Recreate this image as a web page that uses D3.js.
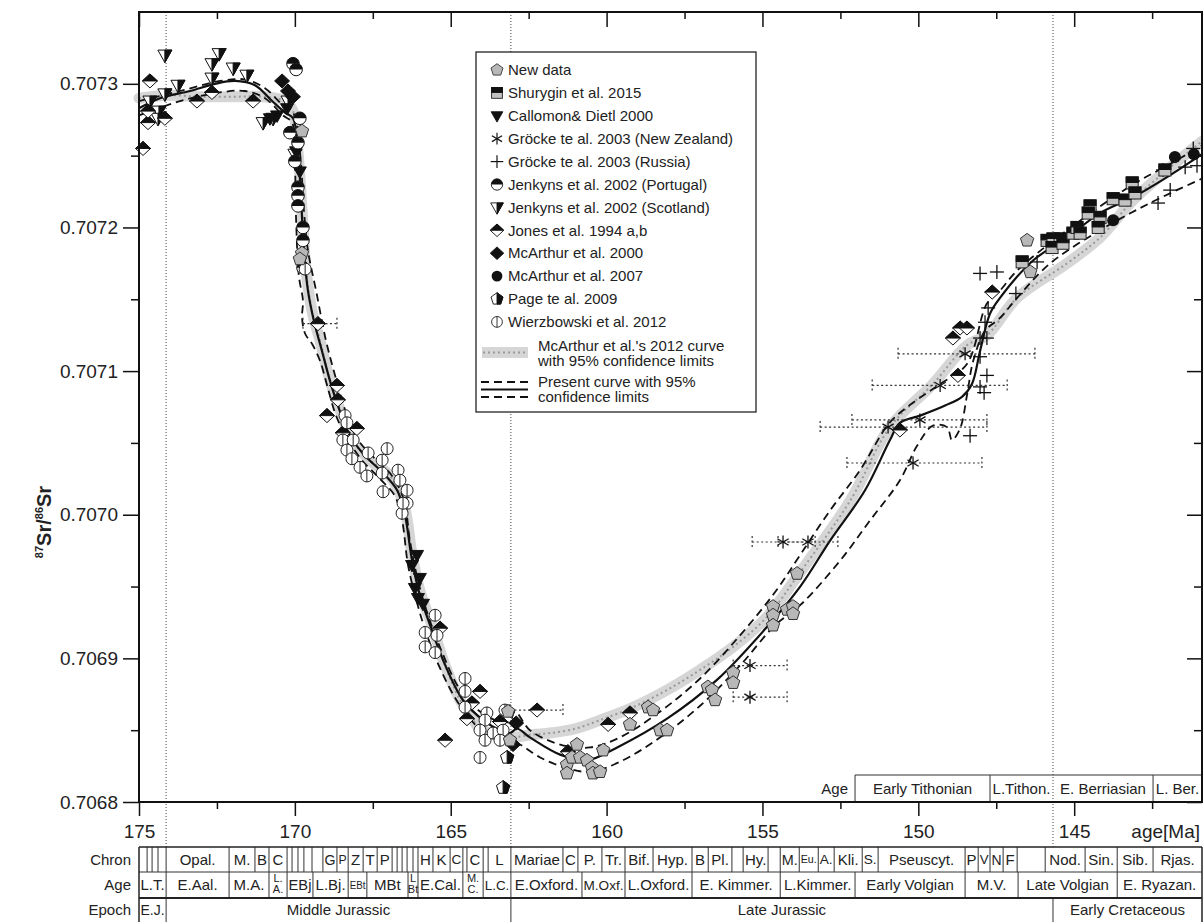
<!DOCTYPE html>
<html>
<head>
<meta charset="utf-8">
<script src="https://cdn.jsdelivr.net/npm/d3@7/dist/d3.min.js"></script>
<style>
body{margin:0;background:#fff;}
svg text{font-family:"Liberation Sans",Arial,Helvetica,sans-serif;fill:#222;}
</style>
</head>
<body>
<svg id="chart" width="1203" height="922"></svg>
<script>
// ---- data: [age Ma, 87Sr/86Sr] (error bars: [age, value, oldest, youngest]) ----
const newData=[[169.77,0.707267],[169.77,0.707182],[169.84,0.707178],[163.16,0.706863],[163.1,0.706843],[161.27,0.706826],[160.95,0.70684],[161.11,0.706831],[160.85,0.706831],[160.63,0.706829],[160.47,0.706824],[161.27,0.70682],[160.44,0.70682],[160.21,0.706821],[160.11,0.706836],[159.25,0.706854],[158.67,0.706866],[158.51,0.706864],[158.28,0.70685],[158.06,0.70685],[156.75,0.70688],[156.62,0.706878],[156.52,0.706871],[155.94,0.70689],[155.94,0.706883],[154.66,0.706936],[154.66,0.70693],[154.66,0.706923],[154.21,0.706934],[154.02,0.706936],[154.02,0.706931],[153.89,0.706959],[146.51,0.707191],[146.41,0.707169]];
const shurygin=[[146.67,0.707176],[145.87,0.707191],[145.68,0.707192],[145.45,0.707192],[145.71,0.707186],[145.36,0.707189],[145.04,0.707196],[144.91,0.7072],[144.81,0.707196],[144.49,0.707215],[144.55,0.70721],[144.17,0.707207],[144.23,0.7072],[143.75,0.70722],[143.37,0.707219],[143.14,0.707231],[143.05,0.707224],[142.09,0.70724]];
const callomon=[[170.57,0.707278],[170.8,0.707276],[170.25,0.707283],[169.96,0.707253],[169.84,0.707239],[165.99,0.706956],[166.15,0.706949],[166.05,0.706942],[165.89,0.706938],[166.24,0.706965],[166.08,0.706972]];
const grockeNZ=[[148.5,0.707112,150.65,146.26],[149.3,0.70709,151.48,147.15],[149.95,0.707066,152.13,147.8],[150.97,0.707061,153.15,147.8],[150.17,0.707036,152.29,147.96],[154.34,0.706981,155.33,153.31],[153.54,0.706981,154.5,152.58],[155.4,0.706895,155.94,154.21],[155.4,0.706873,155.94,154.21]];
const grockeRU=[[148.02,0.707168],[147.48,0.707169],[147.76,0.707144],[147.86,0.707134],[148.02,0.707123],[147.8,0.707123],[148.02,0.70711],[147.8,0.707097],[148.02,0.707089],[147.89,0.707085],[146.87,0.707154],[146.19,0.707176],[142.31,0.707217],[141.92,0.707226],[141.44,0.707242],[141.06,0.707243],[141.18,0.707255],[148.34,0.707055],[142.15,0.70724]];
const jenkynsPT=[[170.06,0.707314],[169.96,0.70731],[170.16,0.707266],[169.9,0.707259],[169.84,0.707276],[169.9,0.707228],[169.9,0.707222],[169.9,0.707215],[169.74,0.7072],[169.74,0.707191],[169.74,0.707172],[170.0,0.707246]];
const jenkynsSC=[[174.17,0.70732],[172.43,0.707321],[172.66,0.707314],[171.98,0.707311],[171.54,0.707306],[172.66,0.707304],[173.75,0.707299],[174.17,0.707293],[174.36,0.707281],[171.02,0.707273],[170.7,0.707276],[174.65,0.707288],[174.39,0.707276],[170.0,0.707251],[170.22,0.707288]];
const jones=[[174.65,0.707302],[174.87,0.707255],[174.71,0.707273],[174.17,0.707276],[173.14,0.707288],[172.66,0.707294],[171.34,0.707288],[174.71,0.707281],[169.26,0.707133,169.74,168.65],[168.65,0.70709],[168.62,0.70708],[168.97,0.707069],[168.46,0.707057],[168.01,0.70706],[165.34,0.706921],[164.06,0.706877],[164.32,0.706869],[164.48,0.706858],[163.42,0.706856],[165.18,0.706843],[162.23,0.706864,163.1,161.4],[161.24,0.706835],[159.95,0.706854],[159.25,0.706862],[150.59,0.707059],[148.89,0.707123],[148.66,0.70713],[148.44,0.70713],[147.63,0.707155],[148.73,0.707097]];
const mcarthur2000=[[170.41,0.707302],[170.22,0.707295],[170.06,0.707291],[162.9,0.706855],[163.0,0.70684]];
const mcarthur2007=[[141.77,0.707249],[141.16,0.707251],[143.75,0.707205]];
const page=[[163.19,0.706831],[163.32,0.70681]];
const wierzbowski=[[169.67,0.707171],[168.39,0.707069],[168.33,0.707064],[168.46,0.707052],[168.13,0.707052],[168.33,0.707045],[168.17,0.707039],[167.91,0.707033],[167.65,0.707043],[167.69,0.707027],[167.04,0.707046],[167.2,0.707038],[167.2,0.707029],[166.69,0.707031],[166.63,0.707024],[166.4,0.707017],[166.4,0.707008],[167.17,0.707016],[166.56,0.707001],[165.5,0.70693],[165.82,0.706918],[165.82,0.706908],[165.44,0.706916],[165.5,0.706904],[164.54,0.706886],[164.54,0.706877],[164.54,0.706866],[163.84,0.706862],[163.9,0.706857],[164.06,0.70685],[163.9,0.706843],[163.64,0.706848],[163.32,0.70685],[163.42,0.706843],[163.26,0.706864],[164.06,0.706831],[166.53,0.707008]];

const mcarthurCurve=[[175.0,0.70729],[174.0,0.707292],[173.04,0.707291],[172.0,0.707291],[171.0,0.707291],[170.32,0.707288],[170.06,0.707281],[169.9,0.707253],[169.77,0.707212],[169.64,0.70717],[169.45,0.707142],[169.19,0.707121],[168.87,0.707093],[168.55,0.707073],[168.17,0.707052],[167.59,0.707038],[166.95,0.707027],[166.5,0.707007],[166.24,0.706972],[165.99,0.706947],[165.6,0.706923],[165.18,0.706895],[164.7,0.706871],[164.38,0.706861],[164.06,0.706851],[163.58,0.706847],[163.1,0.706845],[162.36,0.706847],[161.81,0.706848],[161.01,0.706851],[160.21,0.706857],[159.15,0.706866],[158.06,0.706878],[157.0,0.706892],[155.94,0.706908],[154.85,0.706929],[153.79,0.70696],[152.18,0.70701],[150.91,0.707061],[149.53,0.707091],[148.44,0.707118],[147.8,0.707125],[146.83,0.707151],[145.23,0.707175],[144.17,0.707193],[143.11,0.707219],[142.02,0.70724],[140.9,0.70726]];
const presentCurve=[[175.0,0.707283],[174.33,0.70729],[173.36,0.707295],[172.56,0.7073],[171.92,0.707302],[171.28,0.707299],[170.73,0.707288],[170.32,0.70728],[170.06,0.707276],[169.9,0.707253],[169.8,0.707219],[169.71,0.707184],[169.58,0.707156],[169.39,0.707135],[169.13,0.707114],[168.87,0.707093],[168.62,0.707076],[168.23,0.707055],[167.75,0.707041],[167.17,0.707029],[166.72,0.707017],[166.47,0.707],[166.24,0.706968],[165.99,0.706944],[165.66,0.706923],[165.25,0.706899],[164.61,0.706871],[163.96,0.706857],[163.42,0.70685],[163.1,0.706848],[162.87,0.706851],[162.46,0.706845],[161.49,0.706833],[160.63,0.706829],[159.66,0.706838],[158.06,0.706858],[156.46,0.706885],[154.85,0.706922],[153.79,0.70695],[152.83,0.706982],[151.71,0.707017],[150.91,0.707052],[150.59,0.707064],[149.94,0.707069],[149.14,0.707076],[148.6,0.707082],[148.28,0.707091],[148.02,0.707114],[147.7,0.70714],[147.38,0.707151],[146.32,0.707177],[145.23,0.707193],[144.17,0.70721],[143.11,0.707221],[142.02,0.707235],[140.9,0.707251]];
const presentUpper=[[175.0,0.707288],[173.68,0.707295],[172.4,0.707302],[171.6,0.707303],[170.96,0.707297],[170.38,0.707285],[170.06,0.70728],[169.84,0.707253],[169.71,0.707212],[169.58,0.707184],[169.32,0.707156],[169.0,0.707121],[168.71,0.707097],[168.39,0.707073],[167.97,0.707052],[167.43,0.707039],[166.88,0.707027],[166.5,0.70701],[166.31,0.706982],[166.05,0.706954],[165.73,0.70693],[165.31,0.706906],[164.7,0.706878],[164.06,0.706863],[163.42,0.706856],[163.1,0.706856],[162.94,0.706863],[162.46,0.70685],[161.49,0.70684],[160.53,0.706838],[159.57,0.706845],[158.28,0.706863],[157.0,0.706886],[155.72,0.706916],[154.6,0.706946],[153.79,0.706972],[152.83,0.707003],[151.87,0.707031],[151.0,0.707062],[150.59,0.707071],[150.04,0.70708],[149.3,0.707091],[148.44,0.707105],[147.8,0.707147],[147.38,0.707156],[146.83,0.70717],[145.23,0.707198],[143.11,0.70723],[142.02,0.707243],[140.9,0.707257]];
const presentLower=[[175.0,0.707278],[173.68,0.707288],[172.4,0.707294],[171.6,0.707295],[170.96,0.70729],[170.38,0.707278],[170.09,0.707273],[170.0,0.707246],[169.96,0.707205],[169.87,0.707166],[169.74,0.707149],[169.77,0.707137],[169.67,0.707126],[169.45,0.707119],[169.19,0.707107],[168.94,0.707088],[168.68,0.707069],[168.29,0.707052],[167.85,0.707038],[167.27,0.707025],[166.79,0.707013],[166.56,0.706996],[166.37,0.706965],[166.11,0.706941],[165.79,0.706918],[165.34,0.706893],[164.7,0.706867],[164.06,0.706851],[163.42,0.706845],[163.1,0.706842],[162.78,0.70684],[162.13,0.706831],[161.33,0.706824],[160.53,0.706821],[159.57,0.706828],[158.28,0.706845],[157.0,0.706867],[155.72,0.706895],[154.6,0.706923],[153.79,0.706937],[152.51,0.706968],[151.55,0.706996],[150.59,0.707024],[150.04,0.707048],[149.53,0.707062],[149.08,0.707061],[148.92,0.707052],[148.66,0.70706],[148.44,0.707083],[148.24,0.707107],[147.86,0.707128],[147.38,0.707137],[146.83,0.707151],[145.77,0.707175],[144.17,0.707198],[142.57,0.707217],[140.9,0.707234]];

// ---- stratigraphy ----
const chronBounds=[175.0,174.74,174.58,174.39,174.13,172.11,171.28,170.83,170.25,170.09,169.9,169.71,169.45,169.1,168.65,168.29,167.81,167.36,166.88,166.72,166.56,166.4,166.21,166.05,165.57,165.02,164.61,164.48,163.96,163.8,163.07,161.4,160.92,160.15,159.41,158.51,157.26,156.74,155.98,155.62,154.82,154.43,153.82,153.21,152.7,151.8,151.29,148.5,148.08,147.7,147.28,146.83,145.93,144.65,143.62,142.47,140.9];
const chronLabels=['','','','','Opal.','M.','B','C','','','','','','G','P','Z','T','P','','','','','','H','K','C','','C','','L','Mariae','C','P.','Tr.','Bif.','Hyp.','B','Pl.','','Hy.','','M.','Eu.','A.','Kli.','S.','Pseuscyt.','P','V','N','F','','Nod.','Sin.','Sib.','Rjas.'];
const ageBounds=[175.0,174.13,172.11,170.83,170.25,169.42,168.29,167.69,166.37,166.05,164.61,163.96,163.07,160.79,159.41,157.26,154.43,152.03,148.5,146.8,143.62,140.9];
const ageLabels=['L.T.','E.Aal.','M.A.','L.|A.','EBj','L.Bj.','EBt','MBt','L|Bt','E.Cal.','M.|C.','L.C.','E.Oxford.','M.Oxf.','L.Oxford.','E. Kimmer.','L.Kimmer.','Early Volgian','M.V.','Late Volgian','E. Ryazan.'];
const epochBounds=[175.0,174.13,163.07,145.68,140.9];
const epochLabels=['E.J.','Middle Jurassic','Late Jurassic','Early Cretaceous'];
const topAgeBounds=[152.03,147.7,145.68,142.47,140.9];
const topAgeLabels=['Early Tithonian','L.Tithon.','E. Berriasian','L. Ber.'];
const boundaryLines=[174.13,163.07,145.68];

const xMajor=[175,170,165,160,155,150,145];
const xMinor=[172.5,167.5,162.5,157.5,152.5,147.5,142.5];
const yMajor=[0.7068,0.7069,0.707,0.7071,0.7072,0.7073];
const yMinor=[0.70685,0.70695,0.70705,0.70715,0.70725];

// ---- drawing ----
const svg=d3.select('#chart');
const x=d3.scaleLinear().domain([175,140.9]).range([139,1202]);
const y=d3.scaleLinear().domain([0.7068,0.70735]).range([802,12]);
const FONT='"Liberation Sans",Arial,Helvetica,sans-serif';

// stage boundaries
svg.append('g').selectAll('line').data(boundaryLines).join('line')
  .attr('x1',d=>x(d)).attr('x2',d=>x(d)).attr('y1',12).attr('y2',847)
  .attr('stroke','#444').attr('stroke-width',1).attr('stroke-dasharray','1,2');

// upper right age box
const tb=svg.append('g');
tb.append('line').attr('x1',x(topAgeBounds[0])).attr('x2',1202).attr('y1',775).attr('y2',775).attr('stroke','#333');
topAgeBounds.slice(0,-1).forEach(b=>{
  if(boundaryLines.indexOf(b)<0) tb.append('line').attr('x1',x(b)).attr('x2',x(b)).attr('y1',775).attr('y2',802).attr('stroke','#333');
});
topAgeLabels.forEach((l,i)=>{
  tb.append('text').attr('x',(x(topAgeBounds[i])+x(topAgeBounds[i+1]))/2).attr('y',794)
    .attr('text-anchor','middle').attr('font-size',15).text(l);
});
tb.append('text').attr('x',x(topAgeBounds[0])-7).attr('y',794).attr('text-anchor','end').attr('font-size',15).text('Age');

// curves
const line=d3.line().x(d=>x(d[0])).y(d=>y(d[1])).curve(d3.curveCatmullRom.alpha(0.5));
svg.append('path').attr('d',line(mcarthurCurve)).attr('fill','none').attr('stroke','#d6d6d6').attr('stroke-width',11).attr('stroke-linejoin','round').attr('stroke-linecap','round');
svg.append('path').attr('d',line(mcarthurCurve)).attr('fill','none').attr('stroke','#9a9a9a').attr('stroke-width',2).attr('stroke-dasharray','2,3');
svg.append('path').attr('d',line(presentUpper)).attr('fill','none').attr('stroke','#111').attr('stroke-width',1.8).attr('stroke-dasharray','8,5');
svg.append('path').attr('d',line(presentLower)).attr('fill','none').attr('stroke','#111').attr('stroke-width',1.8).attr('stroke-dasharray','8,5');
svg.append('path').attr('d',line(presentCurve)).attr('fill','none').attr('stroke','#111').attr('stroke-width',2.2);

// symbols
function pent(r){return d3.range(5).map(i=>{const a=(-90+72*i)*Math.PI/180;return [(r*Math.cos(a)).toFixed(2),(r*Math.sin(a)).toFixed(2)];}).join(' ');}
function pentRight(r){const p=d3.range(3).map(i=>{const a=(-90+72*i)*Math.PI/180;return [(r*Math.cos(a)).toFixed(2),(r*Math.sin(a)).toFixed(2)];});p.push([0,(r*0.809).toFixed(2)]);return p.join(' ');}
const sym={
  newData:g=>g.append('polygon').attr('points',pent(7)).attr('fill','#b8b8b8').attr('stroke','#333'),
  shurygin:g=>{g.append('rect').attr('x',-6).attr('y',-6).attr('width',12).attr('height',12).attr('fill','#c2c2c2').attr('stroke','#222');
    g.append('rect').attr('x',-6).attr('y',-6).attr('width',12).attr('height',5.5).attr('fill','#111').attr('stroke','#111');},
  callomon:g=>g.append('polygon').attr('points','-6.5,-4.5 6.5,-4.5 0,7').attr('fill','#111').attr('stroke','#111'),
  grockeNZ:g=>[90,30,150].forEach(a=>{const c=6.5*Math.cos(a*Math.PI/180),s=6.5*Math.sin(a*Math.PI/180);
    g.append('line').attr('x1',-c).attr('y1',-s).attr('x2',c).attr('y2',s).attr('stroke','#111').attr('stroke-width',1.3);}),
  grockeRU:g=>{g.append('line').attr('x1',-7).attr('x2',7).attr('y1',0).attr('y2',0).attr('stroke','#111').attr('stroke-width',1.3);
    g.append('line').attr('x1',0).attr('x2',0).attr('y1',-7).attr('y2',7).attr('stroke','#111').attr('stroke-width',1.3);},
  jenkynsPT:g=>{g.append('circle').attr('r',6.3).attr('fill','#fff').attr('stroke','#111');
    g.append('path').attr('d','M-6.3,0A6.3,6.3 0 0 1 6.3,0Z').attr('fill','#111');},
  jenkynsSC:g=>{g.append('polygon').attr('points','-7,-5 7,-5 0,7.5').attr('fill','#fff').attr('stroke','#111');
    g.append('polygon').attr('points','0,-5 7,-5 0,7.5').attr('fill','#111').attr('stroke','#111');},
  jones:g=>{g.append('polygon').attr('points','0,-7 7.5,0 0,7 -7.5,0').attr('fill','#fff').attr('stroke','#111');
    g.append('polygon').attr('points','-7.5,0 0,-7 7.5,0').attr('fill','#111').attr('stroke','#111');},
  mcarthur2000:g=>g.append('polygon').attr('points','0,-7 7.5,0 0,7 -7.5,0').attr('fill','#111').attr('stroke','#111'),
  mcarthur2007:g=>g.append('circle').attr('r',6).attr('fill','#111'),
  page:g=>{g.append('polygon').attr('points',pent(7)).attr('fill','#fff').attr('stroke','#111');
    g.append('polygon').attr('points',pentRight(7)).attr('fill','#111').attr('stroke','#111');},
  wierzbowski:g=>{g.append('circle').attr('r',6).attr('fill','#fff').attr('stroke','#222');
    g.append('line').attr('x1',0).attr('x2',0).attr('y1',-6).attr('y2',6).attr('stroke','#222');}
};

const series=[
  {key:'jenkynsSC',data:jenkynsSC,label:'Jenkyns et al. 2002 (Scotland)'},
  {key:'jones',data:jones,label:'Jones et al. 1994 a,b'},
  {key:'callomon',data:callomon,label:'Callomon& Dietl 2000'},
  {key:'mcarthur2000',data:mcarthur2000,label:'McArthur et al. 2000'},
  {key:'jenkynsPT',data:jenkynsPT,label:'Jenkyns et al. 2002 (Portugal)'},
  {key:'wierzbowski',data:wierzbowski,label:'Wierzbowski et al. 2012'},
  {key:'grockeRU',data:grockeRU,label:'Gröcke te al. 2003 (Russia)'},
  {key:'grockeNZ',data:grockeNZ,label:'Gröcke te al. 2003 (New Zealand)'},
  {key:'shurygin',data:shurygin,label:'Shurygin et al. 2015'},
  {key:'mcarthur2007',data:mcarthur2007,label:'McArthur et al. 2007'},
  {key:'newData',data:newData,label:'New data'},
  {key:'page',data:page,label:'Page te al. 2009'}
];

// horizontal error bars
const eb=svg.append('g').attr('stroke','#333').attr('stroke-width',1.2).attr('stroke-dasharray','2,2.5');
series.forEach(s=>s.data.filter(d=>d.length>2).forEach(d=>{
  eb.append('line').attr('x1',x(d[2])).attr('x2',x(d[3])).attr('y1',y(d[1])).attr('y2',y(d[1]));
  [d[2],d[3]].forEach(e=>eb.append('line').attr('x1',x(e)).attr('x2',x(e)).attr('y1',y(d[1])-6).attr('y2',y(d[1])+6));
}));

series.forEach(s=>{
  const g=svg.append('g');
  s.data.forEach(d=>{
    const p=g.append('g').attr('transform','translate('+x(d[0])+','+y(d[1])+')');
    sym[s.key](p);
  });
});

// axes
function styleAxis(g){
  g.select('.domain').remove();
  g.attr('font-size',19).attr('font-family',FONT).attr('color','#111');
  g.selectAll('line').attr('stroke-width',1.5);
}
svg.append('g').attr('transform','translate(139,0)').call(d3.axisLeft(y).tickValues(yMajor).tickSize(16).tickPadding(5).tickFormat(d3.format('.4f'))).call(styleAxis);
svg.append('g').attr('transform','translate(139,0)').call(d3.axisLeft(y).tickValues(yMinor).tickSize(8).tickFormat('')).call(styleAxis);
svg.append('g').attr('transform','translate(1202,0)').call(d3.axisLeft(y).tickValues(yMajor).tickSize(15).tickFormat('')).call(styleAxis);
svg.append('g').attr('transform','translate(1202,0)').call(d3.axisLeft(y).tickValues(yMinor).tickSize(8).tickFormat('')).call(styleAxis);
svg.append('g').attr('transform','translate(0,802)').call(d3.axisBottom(x).tickValues(xMajor).tickSize(14).tickPadding(9).tickFormat(d3.format('d'))).call(styleAxis);
svg.append('g').attr('transform','translate(0,802)').call(d3.axisBottom(x).tickValues(xMinor).tickSize(7).tickFormat('')).call(styleAxis);
svg.append('g').attr('transform','translate(0,12)').call(d3.axisBottom(x).tickValues(xMajor).tickSize(15).tickFormat('')).call(styleAxis);
svg.append('g').attr('transform','translate(0,12)').call(d3.axisBottom(x).tickValues(xMinor).tickSize(7).tickFormat('')).call(styleAxis);
svg.append('rect').attr('x',139).attr('y',12).attr('width',1063).attr('height',790).attr('fill','none').attr('stroke','#111').attr('stroke-width',2);

svg.append('text').attr('x',1200).attr('y',838).attr('text-anchor','end').attr('font-size',19).text('age[Ma]');

// y title
const yt=svg.append('text').attr('transform','translate(51,522) rotate(-90)').attr('text-anchor','middle').attr('font-size',20).attr('font-weight','bold');
yt.append('tspan').attr('font-size',11).attr('dy',-8).text('87');
yt.append('tspan').attr('dy',8).text('Sr/');
yt.append('tspan').attr('font-size',11).attr('dy',-8).text('86');
yt.append('tspan').attr('dy',8).text('Sr');

// legend
const lg=svg.append('g');
lg.append('rect').attr('x',476).attr('y',52).attr('width',280).attr('height',360).attr('fill','#fff').attr('stroke','#111').attr('stroke-width',1.2);
const legendOrder=['newData','shurygin','callomon','grockeNZ','grockeRU','jenkynsPT','jenkynsSC','jones','mcarthur2000','mcarthur2007','page','wierzbowski'];
legendOrder.forEach((k,i)=>{
  const s=series.find(e=>e.key===k);
  const yy=70+i*22.9;
  const p=lg.append('g').attr('transform','translate(497,'+yy+') scale(0.9)');
  sym[k](p);
  lg.append('text').attr('x',508).attr('y',yy).attr('dy','0.35em').attr('font-size',15).text(s.label);
});
lg.append('rect').attr('x',482).attr('y',347).attr('width',46).attr('height',11).attr('fill','#d6d6d6');
lg.append('line').attr('x1',483).attr('x2',528).attr('y1',352.5).attr('y2',352.5).attr('stroke','#9a9a9a').attr('stroke-width',2).attr('stroke-dasharray','2,3');
lg.append('text').attr('x',538).attr('y',346).attr('dy','0.35em').attr('font-size',15).text("McArthur et al.'s 2012 curve");
lg.append('text').attr('x',538).attr('y',361).attr('dy','0.35em').attr('font-size',15).text('with 95% confidence limits');
lg.append('line').attr('x1',481).attr('x2',528).attr('y1',382).attr('y2',382).attr('stroke','#111').attr('stroke-width',1.8).attr('stroke-dasharray','8,5');
lg.append('line').attr('x1',481).attr('x2',528).attr('y1',389.5).attr('y2',389.5).attr('stroke','#111').attr('stroke-width',2.2);
lg.append('line').attr('x1',481).attr('x2',528).attr('y1',397).attr('y2',397).attr('stroke','#111').attr('stroke-width',1.8).attr('stroke-dasharray','8,5');
lg.append('text').attr('x',538).attr('y',382).attr('dy','0.35em').attr('font-size',15).text('Present curve with 95%');
lg.append('text').attr('x',538).attr('y',397).attr('dy','0.35em').attr('font-size',15).text('confidence limits');

// stratigraphic table
const tab=svg.append('g');
function row(bounds,labels,y0,y1){
  labels.forEach((lab,i)=>{
    const xa=x(bounds[i]),xb=x(bounds[i+1]);
    if(i>0) tab.append('line').attr('x1',xa).attr('x2',xa).attr('y1',y0).attr('y2',y1).attr('stroke','#333');
    if(!lab) return;
    const cx=(xa+xb)/2, w=xb-xa-3;
    const parts=lab.split('|');
    if(parts.length===1){
      const t=tab.append('text').attr('x',cx).attr('y',(y0+y1)/2).attr('dy','0.36em').attr('text-anchor','middle').attr('font-size',15).text(lab);
      const len=t.node().getComputedTextLength();
      if(len>w){
        const fs=Math.max(10,15*w/len);
        t.attr('font-size',fs);
        if(t.node().getComputedTextLength()>w) t.attr('textLength',w).attr('lengthAdjust','spacingAndGlyphs');
      }
    } else {
      parts.forEach((p,j)=>{
        tab.append('text').attr('x',cx).attr('y',y0+10+j*11).attr('text-anchor','middle').attr('font-size',11).text(p);
      });
    }
  });
}
row(chronBounds,chronLabels,847,872);
row(ageBounds,ageLabels,872,898);
row(epochBounds,epochLabels,898,922);
tab.append('line').attr('x1',139).attr('x2',1202).attr('y1',847).attr('y2',847).attr('stroke','#222').attr('stroke-width',1.5);
tab.append('line').attr('x1',139).attr('x2',1202).attr('y1',872).attr('y2',872).attr('stroke','#333');
tab.append('line').attr('x1',139).attr('x2',1202).attr('y1',898).attr('y2',898).attr('stroke','#222').attr('stroke-width',2);
tab.append('line').attr('x1',139).attr('x2',139).attr('y1',847).attr('y2',922).attr('stroke','#222').attr('stroke-width',1.5);
tab.append('line').attr('x1',1202).attr('x2',1202).attr('y1',847).attr('y2',922).attr('stroke','#222').attr('stroke-width',1.5);
[['Chron',859.5],['Age',885],['Epoch',910]].forEach(r=>{
  tab.append('text').attr('x',131).attr('y',r[1]).attr('dy','0.36em').attr('text-anchor','end').attr('font-size',15).text(r[0]);
});
</script>
</body>
</html>
